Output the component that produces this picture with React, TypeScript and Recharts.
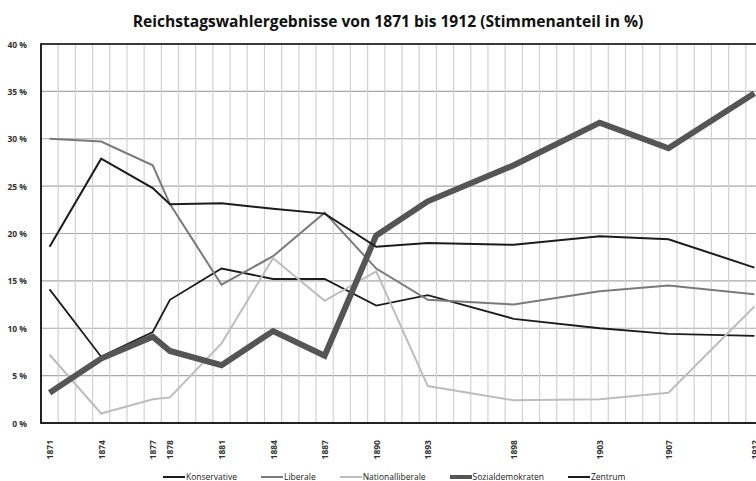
import { LineChart, Line, XAxis, YAxis, CartesianGrid, ReferenceArea } from 'recharts';

const years = [1871, 1874, 1877, 1878, 1881, 1884, 1887, 1890, 1893, 1898, 1903, 1907, 1912];
const konservative = [14.1, 7.0, 9.6, 13.0, 16.3, 15.2, 15.2, 12.4, 13.5, 11.0, 10.0, 9.4, 9.2];
const liberale = [30.0, 29.7, 27.2, 23.1, 14.6, 17.6, 22.2, 16.3, 13.0, 12.5, 13.9, 14.5, 13.6];
const nationalliberale = [7.2, 1.0, 2.5, 2.7, 8.4, 17.4, 12.9, 16.0, 3.9, 2.4, 2.5, 3.2, 12.3];
const sozialdemokraten = [3.2, 6.8, 9.1, 7.6, 6.1, 9.7, 7.1, 19.8, 23.4, 27.2, 31.7, 29.0, 34.8];
const zentrum = [18.6, 27.9, 24.8, 23.1, 23.2, 22.6, 22.1, 18.6, 19.0, 18.8, 19.7, 19.4, 16.4];
const yTicks = [0, 5, 10, 15, 20, 25, 30, 35, 40];

const FONT = '"Open Sans", "Liberation Sans", sans-serif';

const data = years.map((year, i) => ({
  year,
  Konservative: konservative[i],
  Liberale: liberale[i],
  Nationalliberale: nationalliberale[i],
  Sozialdemokraten: sozialdemokraten[i],
  Zentrum: zentrum[i],
}));

// one gridline between every pair of years, like a category axis
const gridYears: number[] = [];
for (let y = years[0] + 0.5; y < years[years.length - 1]; y += 1) gridYears.push(y);

const series = [
  { key: 'Konservative', color: '#1c1c1c', width: 1.8 },
  { key: 'Liberale', color: '#7a7a7a', width: 2 },
  { key: 'Nationalliberale', color: '#bdbdbd', width: 2 },
  { key: 'Sozialdemokraten', color: '#555555', width: 6 },
  { key: 'Zentrum', color: '#1c1c1c', width: 2 },
];

const tickStyle = { fontSize: 8.5, fontWeight: 700, fill: '#333', fontFamily: FONT };

const YearTick = ({ x, y, payload }: any) => (
  <text
    x={x}
    y={y + 9}
    transform={`rotate(-90, ${x}, ${y + 9})`}
    textAnchor="end"
    dominantBaseline="central"
    style={tickStyle}
  >
    {payload.value}
  </text>
);

const PercentTick = ({ x, y, payload }: any) => (
  <text x={x} y={y} textAnchor="end" dominantBaseline="central" style={tickStyle}>
    {`${payload.value} %`}
  </text>
);

export default function App() {
  return (
    <div style={{ position: 'absolute', left: 0, top: 0, width: 756, height: 481, overflow: 'hidden', background: '#fff' }}>
      <div
        style={{
          position: 'absolute',
          top: 10,
          left: 0,
          width: 776,
          textAlign: 'center',
          fontFamily: FONT,
          fontWeight: 700,
          fontSize: 15.6,
          color: '#111',
        }}
      >
        Reichstagswahlergebnisse von 1871 bis 1912 (Stimmenanteil in %)
      </div>
      <LineChart
        width={770}
        height={481}
        data={data}
        margin={{ top: 44, right: 7, bottom: 28, left: 0 }}
      >
        <CartesianGrid vertical={false} stroke="#a8a8a8" strokeWidth={1.2} />
        <CartesianGrid horizontal={false} verticalValues={gridYears} stroke="#d2d2d2" strokeWidth={1.2} />
        <ReferenceArea x1={1870.5} x2={1912.5} y1={0} y2={40} fill="none" stroke="#3a3a3a" strokeWidth={2} />
        <XAxis
          dataKey="year"
          type="number"
          domain={[1870.5, 1912.5]}
          ticks={years}
          interval={0}
          tick={<YearTick />}
          tickLine={false}
          axisLine={{ stroke: '#222', strokeWidth: 2 }}
          height={30}
        />
        <YAxis
          domain={[0, 40]}
          ticks={yTicks}
          width={41}
          tick={<PercentTick />}
          tickLine={false}
          axisLine={{ stroke: '#222', strokeWidth: 2 }}
          tickMargin={8}
        />
        {series.map((s) => (
          <Line
            key={s.key}
            dataKey={s.key}
            type="linear"
            stroke={s.color}
            strokeWidth={s.width}
            dot={false}
            isAnimationActive={false}
          />
        ))}
      </LineChart>
      <div
        style={{
          position: 'absolute',
          top: 471,
          left: 163,
          display: 'flex',
          alignItems: 'center',
          fontFamily: FONT,
          fontSize: 8.5,
          color: '#222',
        }}
      >
        {series.map((s) => (
          <div key={s.key} style={{ display: 'flex', alignItems: 'center', marginRight: 24 }}>
            <span
              style={{
                display: 'inline-block',
                width: 22,
                height: s.width > 3 ? 4 : 2,
                background: s.color,
                marginRight: 1,
              }}
            />
            {s.key}
          </div>
        ))}
      </div>
    </div>
  );
}
